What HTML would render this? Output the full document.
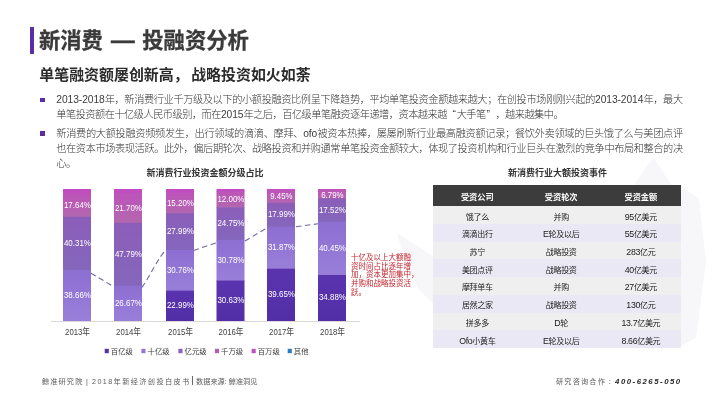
<!DOCTYPE html>
<html lang="zh"><head><meta charset="utf-8"><title>新消费 — 投融资分析</title>
<style>
html,body{margin:0;padding:0}
body{width:720px;height:405px;position:relative;overflow:hidden;background:#fff;font-family:"Liberation Sans","Noto Sans CJK SC",sans-serif;text-spacing-trim:space-all;}
div{position:absolute;white-space:nowrap}
.bar{left:29.5px;top:27px;width:4.3px;height:27px;background:#5a2fa6}
.title{left:39px;top:24.7px;font-size:21.3px;line-height:32px;font-weight:700;color:#3a3a3a;-webkit-text-stroke:0.3px #3a3a3a}
.dash{left:111.4px;transform-origin:0 50%;transform:scaleX(1.11);-webkit-text-stroke:0.5px #3a3a3a}
.sub{left:39.3px;top:63.8px;font-size:14.95px;line-height:22px;font-weight:700;color:#2b2b2b}
.sub i{font-style:normal;margin-right:2.5px}
.bul{left:39.8px;width:4.8px;height:4.8px;background:#5a2fa6}
.bl{left:56.3px;font-size:10.2px;letter-spacing:-0.5px;line-height:14px;height:14px;color:#333;font-weight:300}
.bl.j{width:626.3px;text-align:justify;text-align-last:justify;white-space:normal}
.n{font-size:10.3px;letter-spacing:-0.1px;color:#3c3c3c}
.q{letter-spacing:0}
.ql{margin-left:5.6px;margin-right:0.7px}.qr{margin-right:5.6px;margin-left:0.7px}
.ct{font-size:9px;font-weight:700;color:#333;line-height:12px;text-align:center}
.rl{left:351px;font-size:7.5px;line-height:10px;height:10px;color:#c4242c}
.tbl{left:433px;top:185.4px;width:248px}
.tr{position:relative;display:flex;height:17.7px;line-height:17.7px;font-size:8.05px;color:#222;white-space:nowrap}
.tr span{display:block;text-align:center;position:relative;top:2.3px}
.th span{top:1.4px}
.tr b{font-weight:400;font-size:8.8px}
.tr span:nth-child(1){width:88.6px}.tr span:nth-child(2){width:79.2px}.tr span:nth-child(3){width:80.2px}
.o,.e{letter-spacing:-0.35px}
.th{height:21px;line-height:21px;background:#3c3c3c;color:#fff;font-weight:700;font-size:8.2px}
.o{background:#f0eff0}.e{background:#e9e8f4}
.ft{top:376px;font-size:7.2px;line-height:11px;color:#5a5a5a;letter-spacing:1.1px}
.fn{top:375.6px;left:615.1px;font-size:7.8px;line-height:11px;color:#262626;font-style:italic;font-weight:700;letter-spacing:1.5px}
</style></head><body>
<div class="bar"></div>
<div class="title">新消费</div><div class="title dash">—</div><div class="title" style="left:142.3px">投融资分析</div>
<div class="sub">单笔融资额屡创新高<i>，</i>战略投资如火如荼</div>
<div class="bul" style="top:97.6px"></div>
<div class="bul" style="top:131.2px"></div>
<div class="bl j" style="top:93.0px"><span class="n">2013-2018</span>年，新消费行业千万级及以下的小额投融资比例呈下降趋势，平均单笔投资金额越来越大；在创投市场刚刚兴起的<span class="n">2013-2014</span>年，最大</div>
<div class="bl" style="top:108.4px">单笔投资额在十亿级人民币级别，而在<span class="n">2015</span>年之后，百亿级单笔融资逐年递增，资本越来越<span class="q ql">“</span>大手笔<span class="q qr">”</span>，越来越集中。</div>
<div class="bl j" style="top:127.1px">新消费的大额投融资频频发生，出行领域的滴滴、摩拜、<span class="n">ofo</span>被资本热捧，屡屡刷新行业最高融资额记录；餐饮外卖领域的巨头饿了么与美团点评</div>
<div class="bl j" style="top:141.9px">也在资本市场表现活跃。此外，偏后期轮次、战略投资和并购通常单笔投资金额较大，体现了投资机构和行业巨头在激烈的竞争中布局和整合的决</div>
<div class="bl" style="top:157.0px">心。</div>
<div class="ct" style="left:105px;top:167.3px;width:200px">新消费行业投资金额分级占比</div>
<div class="ct" style="left:457.5px;top:167.3px;width:200px">新消费行业大额投资事件</div>
<svg width="720" height="405" viewBox="0 0 720 405" style="position:absolute;left:0;top:0">
<g fill="#f7f7f9"><polygon points="633,187 644,170 653,158 661,169 673,187"/><polygon points="681,186 699,199 706,262 696,338 681,346"/><polygon points="397,233 433,256 433,303 419,290 405,262"/></g>
<line x1="51" y1="321.5" x2="360" y2="321.5" stroke="#d9d9d9" stroke-width="1"/>
<path d="M91,273.2 L114,286.8 M142,287.4 C150,276 159,256 166,250.4 M193.5,250.4 L217,242.6 M245,241 L267,227.8 M296,226.7 L318,223.8" fill="none" stroke="#6f67a3" stroke-width="1.1" stroke-dasharray="5.5,3.5"/>
<defs><linearGradient id="ga" x1="0" y1="0" x2="0" y2="1"><stop offset="0" stop-color="#5a34af"/><stop offset="1" stop-color="#512ea6"/></linearGradient><linearGradient id="gb" x1="0" y1="0" x2="0" y2="1"><stop offset="0" stop-color="#8d6ed2"/><stop offset="1" stop-color="#997fd9"/></linearGradient><linearGradient id="gc" x1="0" y1="0" x2="0" y2="1"><stop offset="0" stop-color="#8b5db9"/><stop offset="1" stop-color="#8467bc"/></linearGradient><linearGradient id="gd" x1="0" y1="0" x2="0" y2="1"><stop offset="0" stop-color="#bc54b9"/><stop offset="1" stop-color="#b367ae"/></linearGradient><linearGradient id="ge" x1="0" y1="0" x2="0" y2="1"><stop offset="0" stop-color="#c34bc3"/><stop offset="1" stop-color="#bf50bf"/></linearGradient></defs>
<rect x="63" y="189.00" width="28" height="5.07" fill="url(#ge)"/>
<rect x="63" y="193.47" width="28" height="23.88" fill="url(#gd)"/>
<rect x="63" y="216.76" width="28" height="53.81" fill="url(#gc)"/>
<rect x="63" y="269.97" width="28" height="51.03" fill="url(#gb)"/>
<text x="65.1" y="335.3" textLength="25" lengthAdjust="spacingAndGlyphs" font-size="8.6" fill="#404040" font-family='"Liberation Sans","Noto Sans CJK SC",sans-serif'>2013年</text>
<rect x="114" y="189.00" width="28" height="5.67" fill="url(#ge)"/>
<rect x="114" y="194.07" width="28" height="29.24" fill="url(#gd)"/>
<rect x="114" y="222.71" width="28" height="63.68" fill="url(#gc)"/>
<rect x="114" y="285.80" width="28" height="35.20" fill="url(#gb)"/>
<text x="116.1" y="335.3" textLength="25" lengthAdjust="spacingAndGlyphs" font-size="8.6" fill="#404040" font-family='"Liberation Sans","Noto Sans CJK SC",sans-serif'>2014年</text>
<rect x="166" y="189.00" width="28" height="4.64" fill="url(#ge)"/>
<rect x="166" y="193.04" width="28" height="20.66" fill="url(#gd)"/>
<rect x="166" y="213.10" width="28" height="37.55" fill="url(#gc)"/>
<rect x="166" y="250.05" width="28" height="41.20" fill="url(#gb)"/>
<rect x="166" y="290.65" width="28" height="30.35" fill="url(#ga)"/>
<text x="168.1" y="335.3" textLength="25" lengthAdjust="spacingAndGlyphs" font-size="8.6" fill="#404040" font-family='"Liberation Sans","Noto Sans CJK SC",sans-serif'>2015年</text>
<rect x="216.5" y="189.00" width="28" height="3.03" fill="url(#ge)"/>
<rect x="216.5" y="191.43" width="28" height="16.44" fill="url(#gd)"/>
<rect x="216.5" y="207.27" width="28" height="33.27" fill="url(#gc)"/>
<rect x="216.5" y="239.94" width="28" height="41.23" fill="url(#gb)"/>
<rect x="216.5" y="280.57" width="28" height="40.43" fill="url(#ga)"/>
<text x="218.6" y="335.3" textLength="25" lengthAdjust="spacingAndGlyphs" font-size="8.6" fill="#404040" font-family='"Liberation Sans","Noto Sans CJK SC",sans-serif'>2016年</text>
<rect x="267" y="189.00" width="28" height="1.97" fill="url(#ge)"/>
<rect x="267" y="190.37" width="28" height="13.07" fill="url(#gd)"/>
<rect x="267" y="202.85" width="28" height="24.35" fill="url(#gc)"/>
<rect x="267" y="226.59" width="28" height="42.67" fill="url(#gb)"/>
<rect x="267" y="268.66" width="28" height="52.34" fill="url(#ga)"/>
<text x="269.1" y="335.3" textLength="25" lengthAdjust="spacingAndGlyphs" font-size="8.6" fill="#404040" font-family='"Liberation Sans","Noto Sans CJK SC",sans-serif'>2017年</text>
<rect x="318" y="189.00" width="28" height="1.08" fill="url(#ge)"/>
<rect x="318" y="189.48" width="28" height="9.56" fill="url(#gd)"/>
<rect x="318" y="198.44" width="28" height="23.73" fill="url(#gc)"/>
<rect x="318" y="221.56" width="28" height="53.99" fill="url(#gb)"/>
<rect x="318" y="274.96" width="28" height="46.04" fill="url(#ga)"/>
<text x="320.1" y="335.3" textLength="25" lengthAdjust="spacingAndGlyphs" font-size="8.6" fill="#404040" font-family='"Liberation Sans","Noto Sans CJK SC",sans-serif'>2018年</text>
<text x="63.90" y="207.62" textLength="27.0" lengthAdjust="spacingAndGlyphs" font-size="9.2" fill="#ffffff" font-family='"Liberation Sans","Noto Sans CJK SC",sans-serif'>17.64%</text>
<text x="63.90" y="245.86" textLength="27.0" lengthAdjust="spacingAndGlyphs" font-size="9.2" fill="#ffffff" font-family='"Liberation Sans","Noto Sans CJK SC",sans-serif'>40.31%</text>
<text x="63.90" y="297.98" textLength="27.0" lengthAdjust="spacingAndGlyphs" font-size="9.2" fill="#ffffff" font-family='"Liberation Sans","Noto Sans CJK SC",sans-serif'>38.66%</text>
<text x="114.90" y="210.89" textLength="27.0" lengthAdjust="spacingAndGlyphs" font-size="9.2" fill="#ffffff" font-family='"Liberation Sans","Noto Sans CJK SC",sans-serif'>21.70%</text>
<text x="114.90" y="256.75" textLength="27.0" lengthAdjust="spacingAndGlyphs" font-size="9.2" fill="#ffffff" font-family='"Liberation Sans","Noto Sans CJK SC",sans-serif'>47.79%</text>
<text x="114.90" y="305.90" textLength="27.0" lengthAdjust="spacingAndGlyphs" font-size="9.2" fill="#ffffff" font-family='"Liberation Sans","Noto Sans CJK SC",sans-serif'>26.67%</text>
<text x="166.90" y="205.57" textLength="27.0" lengthAdjust="spacingAndGlyphs" font-size="9.2" fill="#ffffff" font-family='"Liberation Sans","Noto Sans CJK SC",sans-serif'>15.20%</text>
<text x="166.90" y="234.08" textLength="27.0" lengthAdjust="spacingAndGlyphs" font-size="9.2" fill="#ffffff" font-family='"Liberation Sans","Noto Sans CJK SC",sans-serif'>27.99%</text>
<text x="166.90" y="272.85" textLength="27.0" lengthAdjust="spacingAndGlyphs" font-size="9.2" fill="#ffffff" font-family='"Liberation Sans","Noto Sans CJK SC",sans-serif'>30.76%</text>
<text x="166.90" y="308.33" textLength="27.0" lengthAdjust="spacingAndGlyphs" font-size="9.2" fill="#ffffff" font-family='"Liberation Sans","Noto Sans CJK SC",sans-serif'>22.99%</text>
<text x="217.40" y="201.85" textLength="27.0" lengthAdjust="spacingAndGlyphs" font-size="9.2" fill="#ffffff" font-family='"Liberation Sans","Noto Sans CJK SC",sans-serif'>12.00%</text>
<text x="217.40" y="226.10" textLength="27.0" lengthAdjust="spacingAndGlyphs" font-size="9.2" fill="#ffffff" font-family='"Liberation Sans","Noto Sans CJK SC",sans-serif'>24.75%</text>
<text x="217.40" y="262.75" textLength="27.0" lengthAdjust="spacingAndGlyphs" font-size="9.2" fill="#ffffff" font-family='"Liberation Sans","Noto Sans CJK SC",sans-serif'>30.78%</text>
<text x="217.40" y="303.28" textLength="27.0" lengthAdjust="spacingAndGlyphs" font-size="9.2" fill="#ffffff" font-family='"Liberation Sans","Noto Sans CJK SC",sans-serif'>30.63%</text>
<text x="270.25" y="199.11" textLength="22.3" lengthAdjust="spacingAndGlyphs" font-size="9.2" fill="#ffffff" font-family='"Liberation Sans","Noto Sans CJK SC",sans-serif'>9.45%</text>
<text x="267.90" y="217.22" textLength="27.0" lengthAdjust="spacingAndGlyphs" font-size="9.2" fill="#ffffff" font-family='"Liberation Sans","Noto Sans CJK SC",sans-serif'>17.99%</text>
<text x="267.90" y="250.13" textLength="27.0" lengthAdjust="spacingAndGlyphs" font-size="9.2" fill="#ffffff" font-family='"Liberation Sans","Noto Sans CJK SC",sans-serif'>31.87%</text>
<text x="267.90" y="297.33" textLength="27.0" lengthAdjust="spacingAndGlyphs" font-size="9.2" fill="#ffffff" font-family='"Liberation Sans","Noto Sans CJK SC",sans-serif'>39.65%</text>
<text x="321.25" y="197.66" textLength="22.3" lengthAdjust="spacingAndGlyphs" font-size="9.2" fill="#ffffff" font-family='"Liberation Sans","Noto Sans CJK SC",sans-serif'>6.79%</text>
<text x="318.90" y="212.50" textLength="27.0" lengthAdjust="spacingAndGlyphs" font-size="9.2" fill="#ffffff" font-family='"Liberation Sans","Noto Sans CJK SC",sans-serif'>17.52%</text>
<text x="318.90" y="250.76" textLength="27.0" lengthAdjust="spacingAndGlyphs" font-size="9.2" fill="#ffffff" font-family='"Liberation Sans","Noto Sans CJK SC",sans-serif'>40.45%</text>
<text x="318.90" y="300.48" textLength="27.0" lengthAdjust="spacingAndGlyphs" font-size="9.2" fill="#ffffff" font-family='"Liberation Sans","Noto Sans CJK SC",sans-serif'>34.88%</text>
<rect x="104.7" y="348.8" width="4.1" height="4.4" fill="#5631a8"/>
<text x="110.8" y="353.6" font-size="7.4" fill="#404040" font-family='"Liberation Sans","Noto Sans CJK SC",sans-serif'>百亿级</text>
<rect x="141.4" y="348.8" width="4.1" height="4.4" fill="#9474d4"/>
<text x="147.5" y="353.6" font-size="7.4" fill="#404040" font-family='"Liberation Sans","Noto Sans CJK SC",sans-serif'>十亿级</text>
<rect x="178.4" y="348.8" width="4.1" height="4.4" fill="#8962bb"/>
<text x="184.5" y="353.6" font-size="7.4" fill="#404040" font-family='"Liberation Sans","Noto Sans CJK SC",sans-serif'>亿元级</text>
<rect x="214.9" y="348.8" width="4.1" height="4.4" fill="#b65cb2"/>
<text x="221.0" y="353.6" font-size="7.4" fill="#404040" font-family='"Liberation Sans","Noto Sans CJK SC",sans-serif'>千万级</text>
<rect x="251.6" y="348.8" width="4.1" height="4.4" fill="#bf52c0"/>
<text x="257.7" y="353.6" font-size="7.4" fill="#404040" font-family='"Liberation Sans","Noto Sans CJK SC",sans-serif'>百万级</text>
<rect x="287.7" y="348.8" width="4.1" height="4.4" fill="#2a7fc0"/>
<text x="293.8" y="353.6" font-size="7.4" fill="#404040" font-family='"Liberation Sans","Noto Sans CJK SC",sans-serif'>其他</text>
</svg>
<div class="rl" style="top:252.8px">十亿及以上大额融</div>
<div class="rl" style="top:261.6px">资时间占比逐年增</div>
<div class="rl" style="top:270.4px">加，资本更加集中，</div>
<div class="rl" style="top:279.2px">并购和战略投资活</div>
<div class="rl" style="top:288.0px">跃。</div>
<div class="tbl">
<div class="tr th"><span>受资公司</span><span>受资轮次</span><span>受资金额</span></div>
<div class="tr o"><span>饿了么</span><span>并购</span><span><b>95</b>亿美元</span></div>
<div class="tr e"><span>滴滴出行</span><span><b>E</b>轮及以后</span><span><b>55</b>亿美元</span></div>
<div class="tr o"><span>苏宁</span><span>战略投资</span><span><b>283</b>亿元</span></div>
<div class="tr e"><span>美团点评</span><span>战略投资</span><span><b>40</b>亿美元</span></div>
<div class="tr o"><span>摩拜单车</span><span>并购</span><span><b>27</b>亿美元</span></div>
<div class="tr e"><span>居然之家</span><span>战略投资</span><span><b>130</b>亿元</span></div>
<div class="tr o"><span>拼多多</span><span><b>D</b>轮</span><span><b>13.7</b>亿美元</span></div>
<div class="tr e"><span><b>Ofo</b>小黄车</span><span><b>E</b>轮及以后</span><span><b>8.66</b>亿美元</span></div>
</div>
<div class="ft" style="left:42px">鲸准研究院</div>
<div class="ft" style="left:86px">|</div>
<div class="ft" style="left:92.1px;letter-spacing:1.38px">2018年新经济创投白皮书</div>
<div class="ft" style="left:191.3px;color:#333;font-size:9px;top:375.3px">|</div>
<div class="ft" style="left:196px;letter-spacing:0">数据来源: 鲸准洞见</div>
<div class="ft" style="left:556px;letter-spacing:1.15px">研究咨询合作</div>
<div class="ft" style="left:608px;letter-spacing:0">：</div>
<div class="fn">400-6265-050</div>
</body></html>
